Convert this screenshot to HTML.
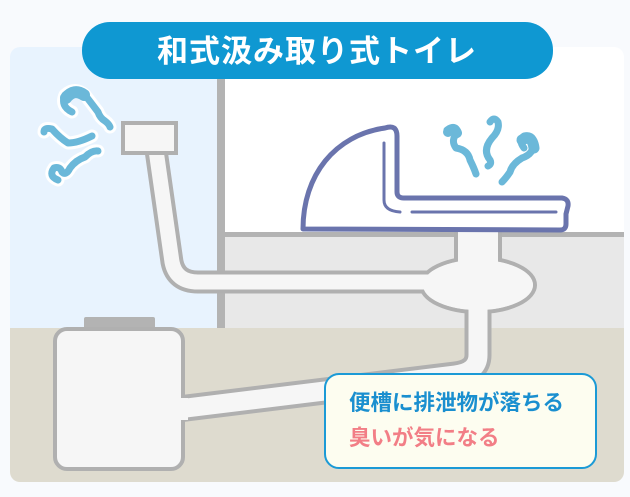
<!DOCTYPE html>
<html><head><meta charset="utf-8"><style>
html,body{margin:0;padding:0;background:#f8fafd;}
body{width:630px;height:497px;overflow:hidden;position:relative;font-family:"Liberation Sans","Noto Sans CJK JP",sans-serif;}
</style></head><body>
<svg width="630" height="497" viewBox="0 0 630 497" style="position:absolute;left:0;top:0">
<defs><clipPath id="card"><rect x="10" y="47" width="614" height="435" rx="10"/></clipPath></defs>
<g clip-path="url(#card)">
<rect x="10" y="47" width="614" height="435" fill="#ffffff"/>
<rect x="10" y="47" width="208" height="283" fill="#e8f3fe"/>
<rect x="225" y="233" width="400" height="97" fill="#e8e8e8"/>
<rect x="225" y="232" width="400" height="5" fill="#b3b3b3"/>
<rect x="217" y="75" width="8" height="255" fill="#b3b3b3"/>
<rect x="10" y="328" width="614" height="160" fill="#dedbcf"/>
</g>
<!-- pipes: outlines first -->
<g fill="none" stroke-linejoin="round" stroke-linecap="butt">
<path d="M156 150 L172 262 Q176 282 198 282 L440 282" stroke="#b0b0b0" stroke-width="23"/>
<path d="M478 300 L478 355 Q478 372 455 375 L170 410" stroke="#b0b0b0" stroke-width="27"/>
<rect x="456" y="226" width="44" height="40" fill="#f6f6f6" stroke="#b0b0b0" stroke-width="4"/>
<ellipse cx="478" cy="285" rx="57" ry="27" fill="#f6f6f6" stroke="#b0b0b0" stroke-width="4"/>
<path d="M156 150 L172 262 Q176 282 198 282 L445 282" stroke="#f6f6f6" stroke-width="15"/>
<path d="M478 295 L478 355 Q478 372 455 375 L170 410" stroke="#f6f6f6" stroke-width="19"/>
</g>
<ellipse cx="478" cy="285" rx="55" ry="25" fill="#f6f6f6"/>
<rect x="458" y="236" width="40" height="30" fill="#f6f6f6"/>
<rect x="123" y="123" width="53" height="30" fill="#f6f6f6" stroke="#b0b0b0" stroke-width="4"/>
<!-- tank -->
<rect x="84" y="317" width="71" height="14" rx="2" fill="#b3b3b3"/>
<rect x="55" y="329" width="128" height="140" rx="12" fill="#f6f6f6" stroke="#b0b0b0" stroke-width="4"/>
<rect x="176" y="398" width="12" height="22" fill="#f6f6f6"/>
<!-- toilet -->
<path d="M303 229 C303 175 335 135 385 128 Q397 124 397 136 L397 192 Q397 198 404 198 L562 198 Q569 199 568 206 L566 214 L566 224 Q566 230 560 230 Z" fill="#ffffff" stroke="#6a74ad" stroke-width="5" stroke-linejoin="round"/>
<path d="M384 143 L384 200 Q384 211 400 212" fill="none" stroke="#6a74ad" stroke-width="3" stroke-linecap="round"/>
<path d="M412 212 L556 212" fill="none" stroke="#6a74ad" stroke-width="3" stroke-linecap="round"/>
<!-- smoke -->
<g fill="none" stroke-linecap="round" stroke-linejoin="round">
<g stroke="#ffffff" stroke-width="13">
<path d="M72 112 Q60 106 65 95 Q75 86 85 95 Q92 104 98 112 Q100 118 105 121 Q109 124 110 127"/>
<path d="M44 132 Q44 127 52 129 Q60 138 68 143 Q78 143 92 136"/>
<path d="M58 180 Q48 176 54 168 Q60 166 62 172 Q66 176 70 168 Q76 160 85 157 Q92 150 98 151"/>
<path d="M447 130 Q455 124 458 132 Q450 140 456 148 Q468 150 470 160 Q474 168 476 174"/>
<path d="M490 122 Q494 116 498 122 Q500 130 492 138 Q482 150 490 160 Q492 164 488 166"/>
<path d="M524 148 Q518 140 524 136 Q532 134 534 142 Q534 154 522 158 Q512 164 510 172 Q506 178 502 182"/>
</g>
<g stroke="#6bb8d9" stroke-width="7">
<path d="M72 112 Q60 106 65 95 Q75 86 85 95 Q92 104 98 112 Q100 118 105 121 Q109 124 110 127"/>
<path d="M44 132 Q44 127 52 129 Q60 138 68 143 Q78 143 92 136"/>
<path d="M58 180 Q48 176 54 168 Q60 166 62 172 Q66 176 70 168 Q76 160 85 157 Q92 150 98 151"/>
<path d="M447 130 Q455 124 458 132 Q450 140 456 148 Q468 150 470 160 Q474 168 476 174"/>
<path d="M490 122 Q494 116 498 122 Q500 130 492 138 Q482 150 490 160 Q492 164 488 166"/>
<path d="M524 148 Q518 140 524 136 Q532 134 534 142 Q534 154 522 158 Q512 164 510 172 Q506 178 502 182"/>
</g>
<path d="M66 98 Q74 88 84 95" stroke="#6bb8d9" stroke-width="12"/>
<path d="M522 140 Q532 134 534 148" stroke="#6bb8d9" stroke-width="11"/>
<path d="M448 132 Q454 126 457 133" stroke="#6bb8d9" stroke-width="10"/>
</g>
<!-- title -->
<rect x="82" y="22" width="471" height="57" rx="28" fill="#0f98d2"/>
<text x="317" y="62" text-anchor="middle" font-size="31" font-weight="bold" fill="#ffffff" font-family="Liberation Sans, Noto Sans CJK JP, sans-serif" letter-spacing="1">和式汲み取り式トイレ</text>
<!-- callout -->
<rect x="325" y="374" width="271" height="94" rx="14" fill="#fdfdf0" stroke="#1b9ad6" stroke-width="2"/>
<text x="349" y="410" font-size="21.5" font-weight="bold" fill="#1a8fcf" font-family="Liberation Sans, Noto Sans CJK JP, sans-serif">便槽に排泄物が落ちる</text>
<text x="349" y="445" font-size="21.5" font-weight="bold" fill="#f27e86" font-family="Liberation Sans, Noto Sans CJK JP, sans-serif">臭いが気になる</text>
</svg>
</body></html>
